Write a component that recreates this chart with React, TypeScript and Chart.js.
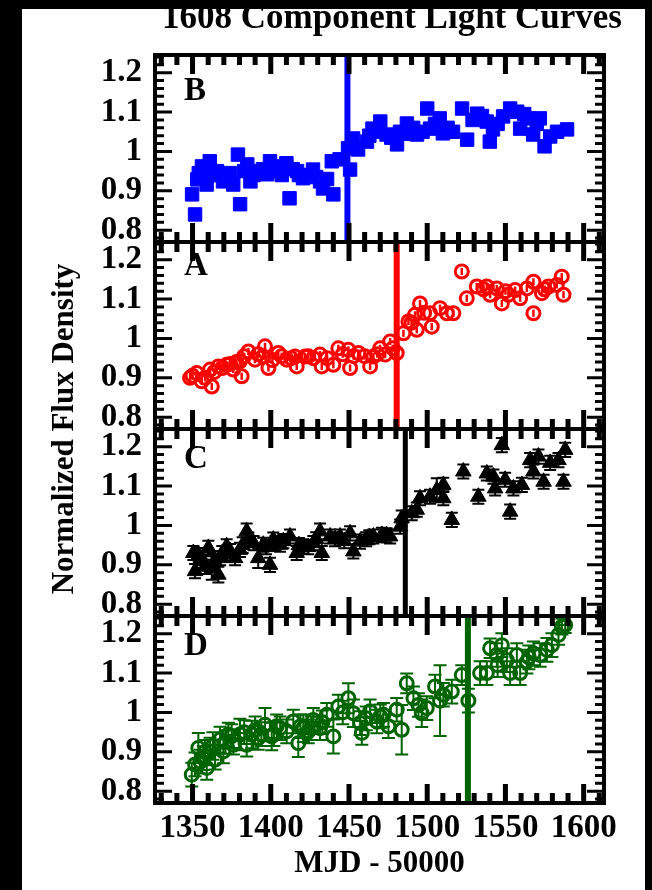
import React, { useEffect, useRef } from 'react';
import { Chart, registerables } from 'chart.js';

Chart.register(...registerables);

// ---------- data ----------
const TITLE = '1608 Component Light Curves';
const X_TITLE = 'MJD - 50000';
const Y_TITLE = 'Normalized Flux Density';
const PANEL_LETTERS = ['B', 'A', 'C', 'D']; // top to bottom

const X_MIN = 1326;
const X_MAX = 1613;
const Y_MIN = 0.77;
const Y_MAX = 1.245;
const X_TICKS = [1350, 1400, 1450, 1500, 1550, 1600];
const Y_TICKS = [0.8, 0.9, 1, 1.1, 1.2];

// time-delay reference lines (B, A, C, D)
const EVENT_MJD = [1449, 1480.5, 1486, 1526];

const B_MJD = [1349.7, 1351.6, 1353, 1356, 1357, 1359, 1361, 1363, 1365.6, 1369.5, 1372, 1376, 1379, 1380.4, 1383, 1385, 1387, 1391, 1395, 1397.6, 1399.5, 1404, 1407, 1410, 1412, 1416.8, 1420.6, 1423, 1427, 1431.5, 1433.4, 1436, 1439, 1440, 1444, 1449.4, 1450.7, 1452.6, 1455.8, 1461.5, 1465, 1470, 1474, 1480.7, 1482.6, 1487, 1493.5, 1500, 1501.8, 1508, 1510, 1516.5, 1522.3, 1525.5, 1532, 1538, 1540, 1542, 1548.5, 1553, 1557.5, 1559.4, 1564, 1567.7, 1572, 1575, 1578.6, 1583, 1589.4,
  1354, 1367, 1374, 1389, 1402, 1414, 1418, 1429, 1463, 1468, 1477, 1485, 1491, 1497, 1505, 1513, 1529, 1535, 1545, 1562, 1570];
const B_FLUX = [0.891, 0.84, 0.929, 0.962, 0.95, 0.916, 0.975, 0.94, 0.95, 0.924, 0.93, 0.916, 0.992, 0.866, 0.95, 0.967, 0.924, 0.95, 0.955, 0.942, 0.975, 0.962, 0.94, 0.97, 0.881, 0.95, 0.932, 0.94, 0.954, 0.924, 0.906, 0.93, 0.975, 0.891, 0.98, 1.008, 0.954, 1.033, 1.005, 1.025, 1.058, 1.076, 1.043, 1.018, 1.05, 1.071, 1.043, 1.109, 1.058, 1.084, 1.046, 1.05, 1.109, 1.03, 1.096, 1.076, 1.025, 1.056, 1.089, 1.109, 1.101, 1.058, 1.084, 1.043, 1.084, 1.013, 1.038, 1.05, 1.056,
  0.945, 0.94, 0.945, 0.94, 0.95, 0.955, 0.94, 0.935, 1.04, 1.05, 1.035, 1.045, 1.06, 1.05, 1.07, 1.06, 1.08, 1.09, 1.07, 1.095, 1.07];
const B_ERR = 0.006;

const A_MJD = [1348.4, 1352.7, 1355.9, 1361.2, 1362.3, 1366.5, 1371.8, 1376, 1380.3, 1381.4, 1385.7, 1389.9, 1395.2, 1396.3, 1398.5, 1404.8, 1410.2, 1415.5, 1416.6, 1421.9, 1427.2, 1431.5, 1432.6, 1440, 1443.2, 1449.6, 1450.7, 1456, 1463.5, 1465.6, 1469.9, 1473.1, 1476.3, 1480.5, 1484.8, 1488, 1492.2, 1493.3, 1495.4, 1501.8, 1502.9, 1508.2, 1512.5, 1516.7, 1522.1, 1525.3, 1531.7, 1538.1, 1540.2, 1544.5, 1547.7, 1551.9, 1556.2, 1559.4, 1563.7, 1567.9, 1567.9, 1573.3, 1577.5, 1582.8, 1586, 1587.1,
  1350, 1358, 1364, 1369, 1374, 1378, 1383, 1392, 1401, 1407, 1413, 1424, 1436, 1446, 1453, 1460, 1468, 1478, 1490, 1498, 1536, 1550, 1575];
const A_FLUX = [0.9, 0.912, 0.891, 0.921, 0.878, 0.929, 0.933, 0.921, 0.942, 0.904, 0.967, 0.946, 0.954, 0.98, 0.925, 0.963, 0.946, 0.954, 0.929, 0.954, 0.95, 0.959, 0.929, 0.933, 0.975, 0.971, 0.925, 0.963, 0.929, 0.954, 0.975, 0.959, 0.992, 0.963, 1.013, 1.043, 1.06, 1.022, 1.089, 1.064, 1.03, 1.077, 1.064, 1.064, 1.17, 1.102, 1.132, 1.132, 1.111, 1.127, 1.089, 1.111, 1.123, 1.102, 1.127, 1.144, 1.064, 1.115, 1.132, 1.136, 1.157, 1.111,
  0.905, 0.9, 0.915, 0.925, 0.935, 0.94, 0.955, 0.96, 0.945, 0.955, 0.95, 0.955, 0.95, 0.96, 0.955, 0.955, 0.96, 0.975, 1.04, 1.065, 1.125, 1.12, 1.125];
const A_ERR = 0.009;

const C_MJD = [1350.5, 1351.6, 1356.9, 1360.1, 1362.3, 1366.5, 1367.6, 1371.8, 1377.2, 1380.3, 1384.6, 1385.7, 1392, 1395.2, 1399.5, 1401.6, 1405.9, 1412.3, 1416.6, 1420.8, 1427.2, 1431.5, 1432.6, 1437.9, 1444.3, 1450.7, 1452.8, 1457.1, 1465.6, 1471, 1476.3, 1482.7, 1483.7, 1490.1, 1493.3, 1495.4, 1501.8, 1506.1, 1510.3, 1510.3, 1515.7, 1523.1, 1532.7, 1538.1, 1542.3, 1543.4, 1547.7, 1549.8, 1553, 1555.1, 1560.5, 1565.8, 1567.9, 1571.1, 1574.4, 1578.6, 1583.9, 1587.1, 1588.2, 1354, 1358, 1374, 1389, 1408, 1424, 1441, 1461,
  1364, 1369, 1382, 1397, 1403, 1418, 1429, 1447, 1463, 1474];
const C_FLUX = [0.93, 0.884, 0.909, 0.943, 0.892, 0.875, 0.917, 0.947, 0.917, 0.938, 0.985, 0.964, 0.917, 0.951, 0.9, 0.964, 0.951, 0.972, 0.93, 0.947, 0.955, 0.985, 0.93, 0.972, 0.972, 0.98, 0.934, 0.959, 0.972, 0.976, 0.972, 0.997, 1.018, 1.031, 1.04, 1.069, 1.073, 1.09, 1.103, 1.069, 1.014, 1.137, 1.073, 1.132, 1.124, 1.094, 1.204, 1.116, 1.035, 1.094, 1.103, 1.166, 1.137, 1.175, 1.111, 1.159, 1.166, 1.111, 1.192, 0.925, 0.895, 0.935, 0.955, 0.96, 0.945, 0.965, 0.965,
  0.91, 0.93, 0.95, 0.945, 0.955, 0.95, 0.965, 0.96, 0.97, 0.975];
const C_ERR = [0.018, 0.018, 0.018, 0.018, 0.03, 0.02, 0.018, 0.018, 0.018, 0.018, 0.02, 0.018, 0.025, 0.018, 0.018, 0.018, 0.018, 0.018, 0.018, 0.018, 0.018, 0.02, 0.018, 0.018, 0.018, 0.018, 0.018, 0.018, 0.018, 0.018, 0.018, 0.018, 0.02, 0.018, 0.018, 0.018, 0.018, 0.03, 0.018, 0.018, 0.018, 0.018, 0.018, 0.018, 0.018, 0.018, 0.018, 0.018, 0.018, 0.018, 0.018, 0.018, 0.018, 0.018, 0.018, 0.018, 0.018, 0.018, 0.018, 0.018, 0.018, 0.018, 0.018, 0.018, 0.018, 0.018, 0.018,
  0.018, 0.018, 0.02, 0.018, 0.018, 0.018, 0.018, 0.018, 0.018, 0.018];

const D_MJD = [1349.5, 1351.6, 1353.7, 1356.9, 1359.1, 1361.2, 1364.4, 1367.6, 1369.7, 1372.9, 1376.1, 1380.3, 1384.6, 1387.8, 1392, 1396.3, 1400.6, 1403.8, 1410.2, 1414.4, 1417.6, 1420.8, 1424, 1427.2, 1431.5, 1435.8, 1440, 1443.2, 1449.6, 1452.8, 1457.1, 1458.2, 1463.5, 1467.8, 1472, 1475.2, 1480.5, 1483.7, 1486.9, 1491.2, 1494.4, 1496.5, 1499.7, 1505, 1508.2, 1510.3, 1515.7, 1522.1, 1526.3, 1533.8, 1538.1, 1540.2, 1544.5, 1547.7, 1550.9, 1553, 1557.3, 1559.4, 1563.7, 1567.9, 1572.2, 1576.5, 1579.7, 1583.9, 1586.1, 1588.2,
  1355, 1358, 1363, 1371, 1375, 1383, 1390, 1394, 1402, 1406, 1419, 1426, 1433, 1446, 1461, 1470, 1545, 1565];
const D_FLUX = [0.842, 0.868, 0.91, 0.884, 0.859, 0.901, 0.88, 0.931, 0.901, 0.944, 0.918, 0.944, 0.918, 0.944, 0.935, 0.969, 0.939, 0.965, 0.952, 0.977, 0.922, 0.96, 0.952, 0.981, 0.96, 0.994, 0.939, 1.015, 1.036, 0.998, 0.973, 0.948, 1.003, 0.977, 0.994, 0.965, 1.007, 0.956, 1.074, 1.036, 1.019, 0.998, 1.011, 1.066, 1.03, 1.045, 1.053, 1.095, 1.03, 1.1, 1.1, 1.163, 1.146, 1.171, 1.133, 1.1, 1.146, 1.1, 1.129, 1.15, 1.146, 1.159, 1.171, 1.197, 1.218, 1.222,
  0.875, 0.9, 0.915, 0.925, 0.94, 0.95, 0.955, 0.945, 0.945, 0.96, 0.965, 0.96, 0.975, 1.0, 0.985, 0.99, 1.12, 1.14];
const D_ERR = [0.03, 0.03, 0.038, 0.03, 0.03, 0.035, 0.025, 0.033, 0.03, 0.03, 0.025, 0.04, 0.03, 0.035, 0.03, 0.042, 0.035, 0.03, 0.03, 0.03, 0.035, 0.035, 0.03, 0.03, 0.03, 0.03, 0.043, 0.03, 0.038, 0.035, 0.03, 0.03, 0.03, 0.03, 0.03, 0.03, 0.03, 0.063, 0.025, 0.03, 0.03, 0.035, 0.03, 0.03, 0.09, 0.03, 0.03, 0.025, 0.03, 0.03, 0.03, 0.025, 0.03, 0.03, 0.03, 0.03, 0.03, 0.03, 0.03, 0.03, 0.03, 0.03, 0.03, 0.025, 0.02, 0.02,
  0.03, 0.03, 0.035, 0.03, 0.03, 0.03, 0.035, 0.03, 0.03, 0.03, 0.03, 0.03, 0.03, 0.03, 0.03, 0.03, 0.03, 0.03];

// ---------- styling ----------
const FONT = '"Liberation Serif", "Times New Roman", serif';
const W = 652;
const H = 890;
const LETTER_BASELINE = [45, 33, 39, 39];

const errPlugin = {
  id: 'errbars',
  beforeDatasetsDraw(chart: any) {
    const ctx = chart.ctx;
    const xs = chart.scales.x;
    chart.data.datasets.forEach((ds: any) => {
      if (!ds.errs) return;
      const ys = chart.scales[ds.yAxisID];
      ctx.save();
      ctx.strokeStyle = ds.borderColor;
      ctx.lineWidth = ds.errWidth;
      ds.data.forEach((p: any, j: number) => {
        const e = ds.errs[j];
        const px = xs.getPixelForValue(p.x);
        const a = ys.getPixelForValue(p.y + e);
        const b = ys.getPixelForValue(p.y - e);
        ctx.beginPath();
        ctx.moveTo(px, a);
        ctx.lineTo(px, b);
        if (ds.errCap) {
          ctx.moveTo(px - ds.errCap, a);
          ctx.lineTo(px + ds.errCap, a);
          ctx.moveTo(px - ds.errCap, b);
          ctx.lineTo(px + ds.errCap, b);
        }
        ctx.stroke();
      });
      ctx.restore();
    });
  },
};

const decorPlugin = {
  id: 'decor',
  afterDraw(chart: any) {
    const ctx = chart.ctx;
    const xs = chart.scales.x;
    const { left, right, top, bottom } = chart.chartArea;
    ctx.save();
    ctx.strokeStyle = '#000';
    ctx.fillStyle = '#000';
    PANEL_LETTERS.forEach((letter, i) => {
      const ys = chart.scales['y' + letter];
      const pt = ys.top;
      const pb = ys.bottom;
      // x ticks (top & bottom, inward)
      ctx.lineWidth = 5;
      ctx.beginPath();
      for (let v = 1330; v <= 1610; v += 10) {
        const px = xs.getPixelForValue(v);
        const len = v % 50 === 0 ? 19 : 10;
        ctx.moveTo(px, pt);
        ctx.lineTo(px, pt + len);
        ctx.moveTo(px, pb);
        ctx.lineTo(px, pb - len);
      }
      ctx.stroke();
      // y ticks (left & right, inward)
      ctx.lineWidth = 3;
      ctx.beginPath();
      for (let k = 39; k <= 62; k++) {
        const py = ys.getPixelForValue(k / 50);
        const len = k % 5 === 0 ? 17 : 9;
        ctx.moveTo(left, py);
        ctx.lineTo(left + len, py);
        ctx.moveTo(right, py);
        ctx.lineTo(right - len, py);
      }
      ctx.stroke();
      // frame
      ctx.lineWidth = 4;
      ctx.strokeRect(left, pt, right - left, pb - pt);
      // panel letter
      ctx.font = `bold 33px ${FONT}`;
      ctx.textAlign = 'left';
      ctx.textBaseline = 'alphabetic';
      ctx.fillText(letter, 184, pt + LETTER_BASELINE[i]);
    });
    // title
    ctx.font = `bold 35px ${FONT}`;
    ctx.textAlign = 'center';
    ctx.textBaseline = 'alphabetic';
    ctx.fillText(TITLE, 392, 28);
    // y title
    ctx.translate(73, (top + bottom) / 2);
    ctx.rotate(-Math.PI / 2);
    ctx.font = `bold 31px ${FONT}`;
    ctx.fillText(Y_TITLE, 0, 0);
    ctx.restore();
  },
};

export default function App() {
  const ref = useRef<HTMLCanvasElement>(null);

  useEffect(() => {
    if (!ref.current) return;
    const pts = (xs: number[], ys: number[]) => xs.map((x, i) => ({ x, y: ys[i] }));
    const series = [
      { id: 'B', data: pts(B_MJD, B_FLUX), errs: B_MJD.map(() => B_ERR), color: '#0000ff', style: 'rect', radius: 9.5, filled: true, bw: 1, cap: 0, errW: 2, lineW: 6 },
      { id: 'A', data: pts(A_MJD, A_FLUX), errs: A_MJD.map(() => A_ERR), color: '#ff0000', style: 'circle', radius: 6.5, filled: false, bw: 3, cap: 0, errW: 2.5, lineW: 6 },
      { id: 'C', data: pts(C_MJD, C_FLUX), errs: C_ERR, color: '#000000', style: 'triangle', radius: 9, filled: true, bw: 1, cap: 6, errW: 2, lineW: 5 },
      { id: 'D', data: pts(D_MJD, D_FLUX), errs: D_ERR, color: '#006400', style: 'circle', radius: 6.5, filled: false, bw: 3, cap: 6.5, errW: 2, lineW: 6 },
    ];
    const datasets: any[] = [];
    series.forEach((s, i) => {
      datasets.push({
        label: s.id + ' delay',
        data: [{ x: EVENT_MJD[i], y: Y_MIN }, { x: EVENT_MJD[i], y: Y_MAX }],
        yAxisID: 'y' + s.id,
        showLine: true,
        borderColor: s.color,
        borderWidth: s.lineW,
        pointRadius: 0,
        order: 0,
      });
      datasets.push({
        label: s.id,
        data: s.data,
        yAxisID: 'y' + s.id,
        showLine: false,
        pointStyle: s.style,
        pointRadius: s.radius,
        backgroundColor: s.filled ? s.color : 'rgba(0,0,0,0)',
        borderColor: s.color,
        borderWidth: s.bw,
        order: 1,
        errs: s.errs,
        errCap: s.cap,
        errWidth: s.errW,
      });
    });

    const tickFont = { family: FONT, size: 33, weight: 'bold' as const };
    const yScale = () => ({
      type: 'linear',
      position: 'left',
      stack: 'panels',
      stackWeight: 1,
      min: Y_MIN,
      max: Y_MAX,
      afterBuildTicks: (s: any) => {
        s.ticks = Y_TICKS.map((v) => ({ value: v }));
      },
      afterFit: (s: any) => {
        s.width = 155;
      },
      grid: { display: false, drawTicks: false },
      border: { display: false },
      ticks: {
        autoSkip: false,
        padding: 13,
        color: '#000',
        font: tickFont,
        callback: (v: any) => String(v),
      },
    });

    const scales: any = {
      x: {
        type: 'linear',
        position: 'bottom',
        min: X_MIN,
        max: X_MAX,
        afterBuildTicks: (s: any) => {
          s.ticks = X_TICKS.map((v) => ({ value: v }));
        },
        afterFit: (s: any) => {
          s.height = 87;
        },
        grid: { display: false, drawTicks: false },
        border: { display: false },
        ticks: {
          autoSkip: false,
          maxRotation: 0,
          padding: 6,
          color: '#000',
          font: tickFont,
          callback: (v: any) => String(v),
        },
        title: {
          display: true,
          text: X_TITLE,
          color: '#000',
          font: { family: FONT, size: 31, weight: 'bold' },
          padding: { top: 0, bottom: 7 },
        },
      },
    };
    // stacked axes are laid out bottom-up, so register them in reverse
    [...PANEL_LETTERS].reverse().forEach((l) => {
      scales['y' + l] = yScale();
    });

    const chart = new Chart(ref.current, {
      type: 'scatter',
      data: { datasets },
      options: {
        responsive: false,
        animation: false,
        devicePixelRatio: 1,
        layout: { padding: { left: 0, right: 48, top: 55, bottom: 0 } },
        plugins: {
          legend: { display: false },
          tooltip: { enabled: false },
          title: { display: false },
        },
        scales,
      },
      plugins: [errPlugin, decorPlugin],
    } as any);
    return () => chart.destroy();
  }, []);

  return (
    <div style={{ position: 'fixed', left: 0, top: 0, width: W, height: H, background: '#000', overflow: 'hidden' }}>
      <canvas ref={ref} width={W} height={H} style={{ position: 'absolute', left: 0, top: 0, width: W, height: H, background: '#fff', display: 'block' }} />
      <div style={{ position: 'absolute', left: 0, top: 0, width: 22, height: H, background: '#000' }} />
      <div style={{ position: 'absolute', left: 0, top: 0, width: W, height: 9, background: '#000' }} />
      <div style={{ position: 'absolute', left: 645, top: 0, width: 7, height: H, background: '#000' }} />
    </div>
  );
}
